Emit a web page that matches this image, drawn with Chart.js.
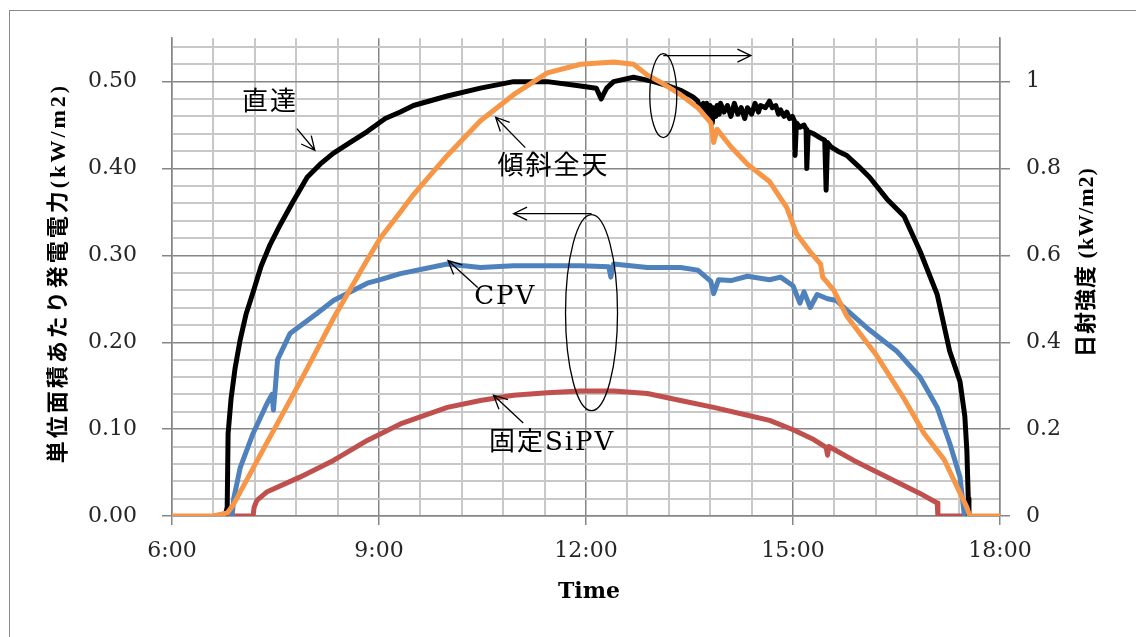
<!DOCTYPE html>
<html>
<head>
<meta charset="utf-8">
<script src="https://cdn.jsdelivr.net/npm/chart.js@4.4.1/dist/chart.umd.min.js"></script>
<style>
  body { margin: 0; background: #fff; }
  #wrap { position: relative; width: 1136px; height: 637px; overflow: hidden; }
  #frame { position: absolute; left: 9px; top: 10px; width: 1160px; height: 660px; border: 1.5px solid #8a8a8a; pointer-events: none; }
  canvas { position: absolute; left: 0; top: 0; }
</style>
</head>
<body>
<div id="wrap">
  <canvas id="pvChart" width="1136" height="637"></canvas>
  <div id="frame"></div>
</div>
<script>
// times in hours of day
// 直達 (right axis, kW/m2)
const timesDirect = [6.77, 6.80, 6.813, 6.856, 6.914, 6.987, 7.074, 7.175, 7.291, 7.422,
  7.567, 7.741, 7.959, 8.147, 8.336, 8.583, 8.829, 9.091, 9.308, 9.50,
  9.99, 10.47, 10.95, 11.44, 11.92, 12.15, 12.22, 12.25, 12.30, 12.40,
  12.69, 12.98, 13.20, 13.37, 13.55, 13.62, 13.66, 13.70, 13.73, 13.75,
  13.78, 13.80, 13.83, 13.85, 13.88, 13.90, 13.93, 13.95, 14.00, 14.05,
  14.10, 14.15, 14.20, 14.25, 14.30, 14.34, 14.40, 14.45, 14.50, 14.53,
  14.60, 14.66, 14.70, 14.75, 14.79, 14.82, 14.87, 14.91, 14.95, 14.99,
  15.02, 15.03, 15.05, 15.10, 15.16, 15.19, 15.20, 15.22, 15.30, 15.40,
  15.46, 15.48, 15.50, 15.55, 15.65, 15.78, 15.95, 16.11, 16.36, 16.61,
  16.84, 17.09, 17.27, 17.42, 17.49, 17.52, 17.54, 17.55];
const valuesDirect = [0, 0.02, 0.19, 0.27, 0.34, 0.405, 0.465, 0.515, 0.575, 0.625,
  0.67, 0.72, 0.78, 0.81, 0.835, 0.86, 0.885, 0.915, 0.93, 0.945,
  0.967, 0.985, 1.0, 1.0, 0.99, 0.985, 0.96, 0.97, 0.985, 1.0,
  1.01, 1.0, 0.99, 0.98, 0.965, 0.955, 0.935, 0.95, 0.925, 0.95,
  0.915, 0.945, 0.905, 0.94, 0.92, 0.945, 0.925, 0.95, 0.93, 0.945,
  0.92, 0.95, 0.925, 0.94, 0.915, 0.94, 0.925, 0.95, 0.93, 0.945,
  0.94, 0.955, 0.94, 0.945, 0.925, 0.935, 0.92, 0.93, 0.915, 0.92,
  0.91, 0.83, 0.905, 0.895, 0.90, 0.89, 0.80, 0.885, 0.88, 0.87,
  0.865, 0.75, 0.86, 0.85, 0.84, 0.83, 0.805, 0.78, 0.73, 0.69,
  0.61, 0.51, 0.38, 0.31, 0.23, 0.15, 0.04, 0];

// 傾斜全天 (right axis, kW/m2)
const timesTilted = [6.00, 6.595, 6.80, 6.885, 7.38, 7.86, 8.34, 8.83, 9.02, 9.31,
  9.50, 9.99, 10.47, 10.95, 11.44, 11.92, 12.40, 12.69, 12.89, 13.12,
  13.37, 13.62, 13.81, 13.85, 13.90, 14.10, 14.34, 14.58, 14.66, 14.91,
  15.05, 15.24, 15.40, 15.43, 15.59, 15.78, 16.21, 16.61, 16.90, 17.19,
  17.52, 17.56, 18.00];
const valuesTilted = [0, 0, 0.007, 0.025, 0.17, 0.31, 0.455, 0.59, 0.64, 0.70,
  0.74, 0.83, 0.91, 0.97, 1.02, 1.04, 1.045, 1.04, 1.015, 0.995,
  0.97, 0.94, 0.905, 0.86, 0.89, 0.85, 0.81, 0.78, 0.77, 0.71,
  0.65, 0.61, 0.58, 0.55, 0.52, 0.46, 0.37, 0.27, 0.19, 0.13,
  0.02, 0, 0];

// CPV (left axis, kW/m2)
const timesCpv = [6.87, 6.895, 6.99, 7.175, 7.38, 7.45, 7.47, 7.50, 7.53, 7.71,
  8.10, 8.34, 8.83, 9.02, 9.31, 9.99, 10.47, 10.95, 11.44, 11.92,
  12.33, 12.36, 12.40, 12.89, 13.37, 13.62, 13.81, 13.85, 13.92, 14.10,
  14.34, 14.66, 14.82, 15.00, 15.10, 15.16, 15.25, 15.35, 15.50, 15.63,
  15.78, 16.11, 16.50, 16.84, 17.09, 17.27, 17.42, 17.48, 17.49];
const valuesCpv = [0, 0.02, 0.056, 0.095, 0.13, 0.14, 0.122, 0.15, 0.18, 0.21,
  0.233, 0.248, 0.268, 0.272, 0.279, 0.29, 0.286, 0.288, 0.288, 0.288,
  0.287, 0.275, 0.29, 0.286, 0.286, 0.283, 0.27, 0.256, 0.272, 0.271,
  0.276, 0.272, 0.275, 0.265, 0.245, 0.258, 0.24, 0.255, 0.25, 0.248,
  0.237, 0.214, 0.19, 0.16, 0.125, 0.084, 0.045, 0.003, 0];

// 固定SiPV (left axis, kW/m2)
const timesSipv = [6.81, 7.175, 7.19, 7.23, 7.38, 7.86, 8.34, 8.83, 9.31, 9.99,
  10.47, 10.95, 11.44, 11.92, 12.40, 12.89, 13.37, 13.85, 14.34, 14.66,
  15.01, 15.30, 15.48, 15.50, 15.52, 15.88, 16.36, 16.84, 17.09, 17.10,
  17.48];
const valuesSipv = [0, 0, 0.01, 0.018, 0.028, 0.045, 0.064, 0.087, 0.106, 0.125,
  0.133, 0.139, 0.142, 0.144, 0.144, 0.141, 0.133, 0.125, 0.116, 0.11,
  0.099, 0.088, 0.079, 0.07, 0.08, 0.064, 0.045, 0.026, 0.015, 0,
  0];

// callouts, placed in data units (hour, left-axis value)
const calloutLabels = [
  { text: '直達', hour: 7.42, value: 0.475 },
  { text: '傾斜全天', hour: 11.53, value: 0.402 },
  { text: 'CPV', hour: 10.83, value: 0.252 },
  { text: '固定SiPV', hour: 11.51, value: 0.084 },
];
const calloutArrows = [
  { from: [7.81, 0.446], to: [8.07, 0.421] },
  { from: [11.12, 0.424], to: [10.69, 0.459] },
  { from: [10.43, 0.263], to: [10.00, 0.294] },
  { from: [11.09, 0.107], to: [10.66, 0.139] },
  { from: [13.12, 0.530], to: [14.39, 0.530] },
  { from: [12.08, 0.348], to: [10.95, 0.348] },
];
const calloutEllipses = [
  { hour: 13.12, value: 0.484, rx: 13.5, ry: 42 },
  { hour: 12.08, value: 0.234, rx: 26, ry: 98 },
];

const MAJOR = '#868686';
const MINOR = '#c8c8c8';
const tickFont = { family: '"DejaVu Serif", serif', size: 22 };

function toPoints(times, values) {
  return times.map((t, i) => ({ x: t * 60, y: values[i] }));
}

function isMajorMinute(v) { return v % 180 === 0; }
function isMajorLeft(v) { return Math.abs(v * 10 - Math.round(v * 10)) < 1e-6; }

function drawArrow(ctx, x1, y1, x2, y2) {
  const ang = Math.atan2(y2 - y1, x2 - x1);
  const len = 15, spread = 0.45;
  ctx.beginPath();
  ctx.moveTo(x1, y1);
  ctx.lineTo(x2, y2);
  ctx.moveTo(x2 - len * Math.cos(ang - spread), y2 - len * Math.sin(ang - spread));
  ctx.lineTo(x2, y2);
  ctx.lineTo(x2 - len * Math.cos(ang + spread), y2 - len * Math.sin(ang + spread));
  ctx.stroke();
}

const calloutPlugin = {
  id: 'callouts',
  afterDraw(chart) {
    const { ctx } = chart;
    const xs = chart.scales.x;
    const ys = chart.scales.y;
    const px = (h) => xs.getPixelForValue(h * 60);
    const py = (v) => ys.getPixelForValue(v);

    ctx.save();
    ctx.strokeStyle = '#000';
    ctx.lineWidth = 1.3;
    calloutArrows.forEach((a) => drawArrow(ctx, px(a.from[0]), py(a.from[1]), px(a.to[0]), py(a.to[1])));
    calloutEllipses.forEach((e) => {
      ctx.beginPath();
      ctx.ellipse(px(e.hour), py(e.value), e.rx, e.ry, 0, 0, Math.PI * 2);
      ctx.stroke();
    });

    ctx.fillStyle = '#000';
    ctx.textAlign = 'center';
    ctx.textBaseline = 'middle';
    ctx.font = '26px "DejaVu Serif", "Noto Sans CJK JP", serif';
    ctx.letterSpacing = '2px';
    calloutLabels.forEach((l) => ctx.fillText(l.text, px(l.hour), py(l.value)));
    ctx.restore();

    // axis titles
    ctx.save();
    ctx.fillStyle = '#000';
    ctx.textAlign = 'center';
    ctx.textBaseline = 'middle';
    ctx.font = 'bold 22px "DejaVu Serif", serif';
    ctx.fillText('Time', (chart.chartArea.left + chart.chartArea.right) / 2 + 3, 592);

    ctx.font = 'bold 22px "Liberation Serif", "Noto Sans CJK JP", serif';
    ctx.letterSpacing = '3px';
    ctx.save();
    ctx.translate(59, 273);
    ctx.rotate(-Math.PI / 2);
    ctx.fillText('単位面積あたり発電電力(kW/m2)', 0, 0);
    ctx.restore();

    ctx.letterSpacing = '1px';
    ctx.save();
    ctx.translate(1087, 262);
    ctx.rotate(-Math.PI / 2);
    ctx.fillText('日射強度 (kW/m2)', 0, 0);
    ctx.restore();
    ctx.restore();
  },
};

const lineStyle = {
  pointRadius: 0,
  borderWidth: 5,
  tension: 0,
  borderJoinStyle: 'round',
  borderCapStyle: 'round',
  fill: false,
};

new Chart(document.getElementById('pvChart').getContext('2d'), {
  type: 'line',
  data: {
    datasets: [
      { label: '傾斜全天', data: toPoints(timesTilted, valuesTilted), borderColor: '#f79646', yAxisID: 'y1', ...lineStyle },
      { label: '直達', data: toPoints(timesDirect, valuesDirect), borderColor: '#000000', yAxisID: 'y1', ...lineStyle },
      { label: 'CPV', data: toPoints(timesCpv, valuesCpv), borderColor: '#4f81bd', yAxisID: 'y', ...lineStyle },
      { label: '固定SiPV', data: toPoints(timesSipv, valuesSipv), borderColor: '#c0504d', yAxisID: 'y', ...lineStyle },
    ],
  },
  options: {
    responsive: false,
    animation: false,
    devicePixelRatio: 1,
    layout: { padding: { top: 38, left: 0, right: 0, bottom: 0 } },
    plugins: { legend: { display: false }, tooltip: { enabled: false } },
    scales: {
      x: {
        type: 'linear',
        min: 360,
        max: 1080,
        afterFit: (scale) => { scale.height = 121; },
        ticks: {
          stepSize: 36,
          autoSkip: false,
          maxRotation: 0,
          padding: 13,
          color: '#262626',
          font: tickFont,
          callback: (v) => (isMajorMinute(v) ? `${v / 60}:00` : ''),
        },
        grid: {
          color: (c) => (isMajorMinute(c.tick.value) ? MAJOR : MINOR),
          lineWidth: (c) => (isMajorMinute(c.tick.value) ? 1.5 : 2),
          tickColor: (c) => (isMajorMinute(c.tick.value) ? MAJOR : 'rgba(0,0,0,0)'),
          tickLength: 9,
        },
        border: { color: MAJOR, width: 1.5 },
      },
      y: {
        type: 'linear',
        position: 'left',
        min: 0,
        max: 0.55,
        afterFit: (scale) => { scale.width = 172; },
        ticks: {
          stepSize: 0.02,
          includeBounds: false,
          autoSkip: false,
          padding: 25,
          color: '#262626',
          font: tickFont,
          callback: (v) => (isMajorLeft(v) ? v.toFixed(2) : ''),
        },
        grid: {
          color: (c) => (isMajorLeft(c.tick.value) ? MAJOR : MINOR),
          lineWidth: (c) => (isMajorLeft(c.tick.value) ? 1.5 : 2),
          tickColor: (c) => (isMajorLeft(c.tick.value) ? MAJOR : 'rgba(0,0,0,0)'),
          tickLength: 10,
        },
        border: { color: MAJOR, width: 1.5 },
      },
      y1: {
        type: 'linear',
        position: 'right',
        min: 0,
        max: 1.1,
        afterFit: (scale) => { scale.width = 136; },
        ticks: {
          stepSize: 0.2,
          includeBounds: false,
          autoSkip: false,
          padding: 16,
          color: '#262626',
          font: tickFont,
          callback: (v) => String(Math.round(v * 10) / 10),
        },
        grid: { drawOnChartArea: false, color: MAJOR, tickLength: 10, lineWidth: 1.5 },
        border: { color: MAJOR, width: 1.5 },
      },
    },
  },
  plugins: [calloutPlugin],
});
</script>
</body>
</html>
